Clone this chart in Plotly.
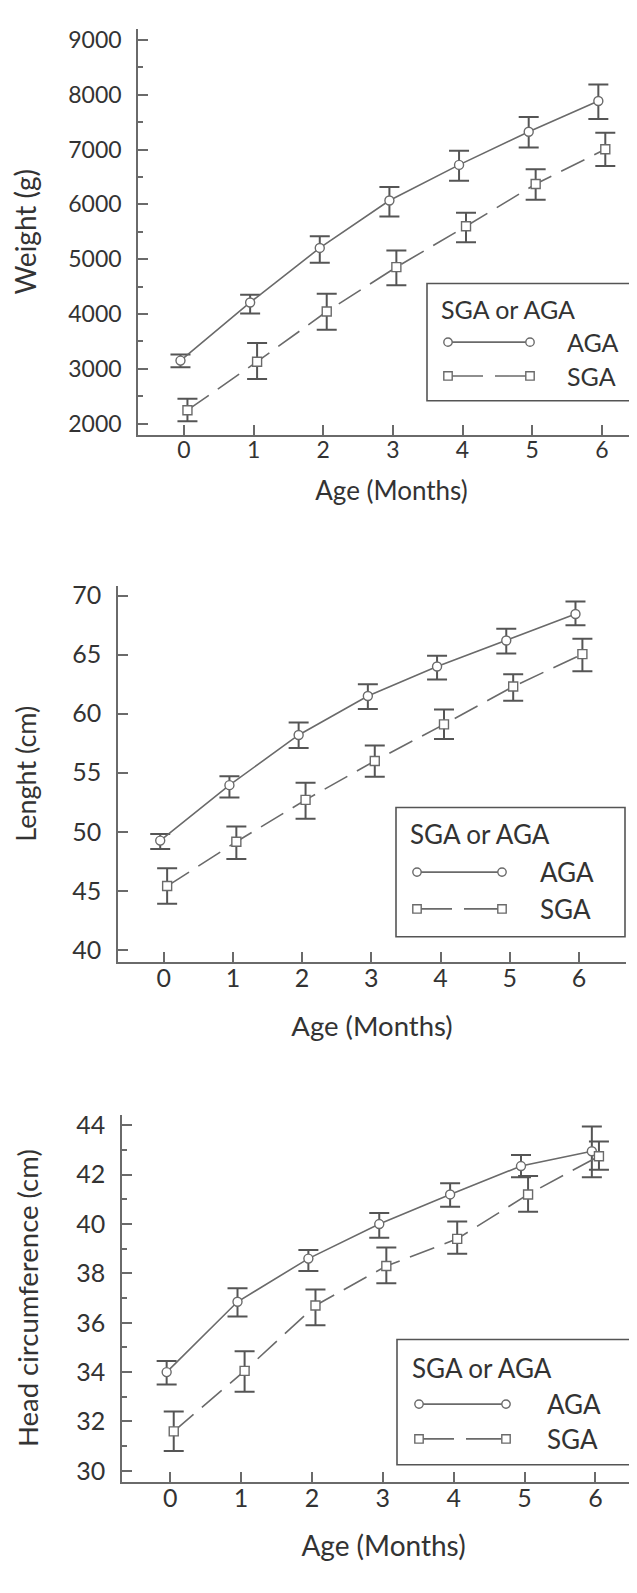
import plotly.graph_objects as go

W, H = 637, 1593

months = [0, 1, 2, 3, 4, 5, 6]

# Weight (g)
w_aga = [3150, 4210, 5205, 6070, 6720, 7325, 7885]
w_aga_hi = [3260, 4350, 5420, 6315, 6980, 7595, 8185]
w_aga_lo = [3030, 4010, 4935, 5780, 6430, 7035, 7555]
w_sga = [2245, 3130, 4045, 4855, 5600, 6370, 7005]
w_sga_hi = [2455, 3470, 4370, 5160, 5845, 6640, 7305]
w_sga_lo = [2045, 2815, 3715, 4525, 5310, 6085, 6700]

# Length (cm)
l_aga = [49.25, 53.95, 58.2, 61.5, 64.0, 66.2, 68.45]
l_aga_hi = [49.8, 54.7, 59.25, 62.5, 64.9, 67.2, 69.5]
l_aga_lo = [48.55, 52.9, 57.1, 60.4, 62.9, 65.1, 67.5]
l_sga = [45.4, 49.15, 52.7, 56.0, 59.1, 62.3, 65.05]
l_sga_hi = [46.9, 50.45, 54.15, 57.3, 60.35, 63.35, 66.35]
l_sga_lo = [43.9, 47.7, 51.1, 54.65, 57.85, 61.1, 63.6]

# Head circumference (cm)
h_aga = [34.0, 36.85, 38.6, 40.0, 41.2, 42.35, 42.95]
h_aga_hi = [34.45, 37.4, 38.95, 40.45, 41.65, 42.8, 43.95]
h_aga_lo = [33.5, 36.25, 38.1, 39.45, 40.7, 41.9, 41.9]
h_sga = [31.6, 34.05, 36.7, 38.3, 39.4, 41.2, 42.75]
h_sga_hi = [32.4, 34.85, 37.35, 39.05, 40.1, 41.95, 43.35]
h_sga_lo = [30.8, 33.2, 35.9, 37.6, 38.8, 40.5, 42.2]

x_ticks = [0, 1, 2, 3, 4, 5, 6]
x_title = "Age (Months)"
legend_title = "SGA or AGA"
group_names = ["AGA", "SGA"]

LINE = "#6a6a6a"
TEXT = "#333333"
FONT = "Lato"
DASH = "26px,11px"

fig = go.Figure()

def px_x(p):
    return p / W

def px_y(p):
    return 1 - p / H

def add_series(ax, x, y, hi, lo, name, symbol, dash, shift):
    xs = [v + shift for v in x]
    fig.add_trace(go.Scatter(
        x=xs, y=y, name=name, mode="lines+markers",
        xaxis="x" + ax, yaxis="y" + ax,
        line=dict(color=LINE, width=1.6, dash=dash),
        marker=dict(symbol=symbol, size=9, color="white",
                    line=dict(color=LINE, width=1.4)),
        error_y=dict(type="data", symmetric=False,
                     array=[h - v for h, v in zip(hi, y)],
                     arrayminus=[v - l for l, v in zip(lo, y)],
                     color="#555555", thickness=2, width=10),
        showlegend=False,
    ))

panels = [
    dict(ax="", x=(130, 637), y=(15, 423), yr=[1800, 9200], xr=[-0.66, 6.62],
         yt="Weight (g)", dtick=1000, minor=500, tf=23, xtf=26, ytf=28,
         ysd=24, xsd=20,
         data=[(w_aga, w_aga_hi, w_aga_lo), (w_sga, w_sga_hi, w_sga_lo)],
         leg=dict(box=(419, 271, 636, 389), tx=431, ty=297, rows=(330, 364),
                  lx=(440, 522), lab=557, fs=25)),
    dict(ax="2", x=(110, 618), y=(575, 953), yr=[39.0, 70.84], xr=[-0.66, 6.68],
         yt="Lenght (cm)", dtick=5, minor=None, tf=25, xtf=27.5, ytf=27,
         ysd=28, xsd=25,
         data=[(l_aga, l_aga_hi, l_aga_lo), (l_sga, l_sga_hi, l_sga_lo)],
         leg=dict(box=(388, 798, 617, 928), tx=400, ty=825, rows=(863, 900),
                  lx=(409, 494), lab=530, fs=26)),
    dict(ax="3", x=(114, 637), y=(1107, 1476), yr=[29.56, 44.43], xr=[-0.68, 6.7],
         yt="Head circumference (cm)", dtick=2, minor=1, tf=25, xtf=28, ytf=27.5,
         ysd=30, xsd=25,
         data=[(h_aga, h_aga_hi, h_aga_lo), (h_sga, h_sga_hi, h_sga_lo)],
         leg=dict(box=(389, 1333, 625, 1459), tx=402, ty=1362, rows=(1398, 1433),
                  lx=(411, 498), lab=537, fs=26)),
]

shapes = []
annotations = []

for p in panels:
    ax = p["ax"]
    (a, ah, al), (s, sh, sl) = p["data"]
    add_series(ax, months, a, ah, al, group_names[0], "circle", "solid", -0.05)
    add_series(ax, months, s, sh, sl, group_names[1], "square", DASH, 0.05)

    xa = dict(domain=[px_x(p["x"][0]), px_x(p["x"][1])], range=p["xr"],
              anchor="y" + ax, tickmode="array", tickvals=x_ticks,
              ticks="inside", ticklen=10, tickwidth=1.5, tickcolor=LINE,
              showline=True, linecolor=LINE, linewidth=1.6,
              showgrid=False, zeroline=False,
              tickfont=dict(family=FONT, size=p["tf"], color=TEXT),
              ticklabelstandoff=-6,
              title=dict(text=x_title, font=dict(family=FONT, size=p["xtf"], color=TEXT),
                         standoff=p["xsd"]))
    ya = dict(domain=[px_y(p["y"][1]), px_y(p["y"][0])], range=p["yr"],
              anchor="x" + ax, dtick=p["dtick"], tick0=0,
              ticks="inside", ticklen=10, tickwidth=1.5, tickcolor=LINE,
              showline=True, linecolor=LINE, linewidth=1.6,
              showgrid=False, zeroline=False,
              tickfont=dict(family=FONT, size=p["tf"], color=TEXT),
              ticklabelstandoff=10,
              title=dict(text=p["yt"], font=dict(family=FONT, size=p["ytf"], color=TEXT),
                         standoff=p["ysd"]))
    if p["minor"]:
        ya["minor"] = dict(dtick=p["minor"], ticks="inside", ticklen=5,
                           tickwidth=1.5, tickcolor=LINE, showgrid=False)
    fig.update_layout(**{"xaxis" + ax: xa, "yaxis" + ax: ya})

    lg = p["leg"]
    x0, y0, x1, y1 = lg["box"]
    shapes.append(dict(type="rect", xref="paper", yref="paper",
                       x0=px_x(x0), x1=px_x(x1), y0=px_y(y1), y1=px_y(y0),
                       line=dict(color="#555555", width=1.6), fillcolor="white",
                       layer="above"))
    annotations.append(dict(text=legend_title, xref="paper", yref="paper",
                            x=px_x(lg["tx"]), y=px_y(lg["ty"]),
                            xanchor="left", yanchor="middle", showarrow=False,
                            font=dict(family=FONT, size=lg["fs"], color=TEXT)))
    for name, ry, dash, sym in zip(group_names, lg["rows"],
                                   ["solid", "35px,12px"], ["circle", "square"]):
        lx0, lx1 = lg["lx"]
        shapes.append(dict(type="line", xref="paper", yref="paper",
                           x0=px_x(lx0), x1=px_x(lx1), y0=px_y(ry), y1=px_y(ry),
                           line=dict(color=LINE, width=1.6, dash=dash),
                           layer="above"))
        for cx in (lx0, lx1):
            r = 4.2
            shapes.append(dict(type="circle" if sym == "circle" else "rect",
                               xref="paper", yref="paper",
                               x0=px_x(cx - r), x1=px_x(cx + r),
                               y0=px_y(ry + r), y1=px_y(ry - r),
                               line=dict(color=LINE, width=1.4), fillcolor="white",
                               layer="above"))
        annotations.append(dict(text=name, xref="paper", yref="paper",
                                x=px_x(lg["lab"]), y=px_y(ry),
                                xanchor="left", yanchor="middle", showarrow=False,
                                font=dict(family=FONT, size=lg["fs"], color=TEXT)))

fig.update_layout(width=W, height=H, margin=dict(l=0, r=0, t=0, b=0),
                  paper_bgcolor="white", plot_bgcolor="white",
                  shapes=shapes, annotations=annotations,
                  font=dict(family=FONT, color=TEXT), showlegend=False)

fig.write_html("out.html")
